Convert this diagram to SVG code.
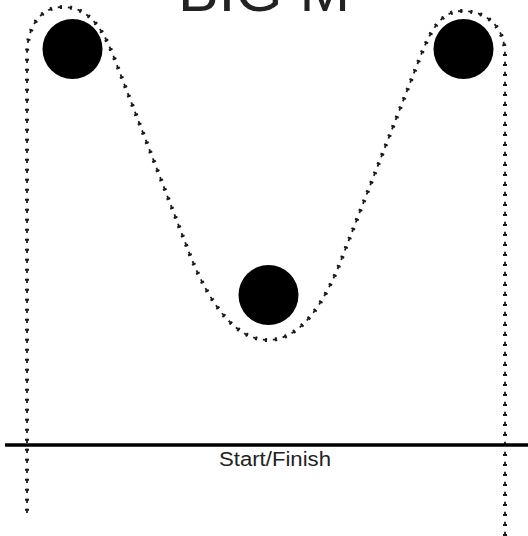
<svg xmlns="http://www.w3.org/2000/svg" width="528" height="536" viewBox="0 0 528 536">
<style>
.ball{fill:#000}
.trk{fill:none;stroke:#1a1a1a;stroke-linejoin:round}
.base{stroke-width:4;stroke-dasharray:2 8}
.tip{stroke-width:1.8;stroke-dasharray:4.2 5.8}
.lbl{font-family:"Liberation Sans",Arial,sans-serif;fill:#222}
</style>
<rect width="528" height="536" fill="#fff"/>
<text class="lbl" x="264" y="11" font-size="60" text-anchor="middle" textLength="172" lengthAdjust="spacingAndGlyphs" fill="#000">BIG M</text>
<g id="connectors">
<path id="trackBase" class="trk base" d="M505,536 L505,55 C505,28 488,11 462,11 C440,11 430,32 419,60 L345,250 C325,305 300,340 268,340 C236,340 210,305 190,255 L115,60 C104,31 90,7 63,7 C40,7 27,27 27,55 L27,515"/>
<path id="trackTip" class="trk tip" d="M505,536 L505,55 C505,28 488,11 462,11 C440,11 430,32 419,60 L345,250 C325,305 300,340 268,340 C236,340 210,305 190,255 L115,60 C104,31 90,7 63,7 C40,7 27,27 27,55 L27,515"/>
</g>
<g id="cone-left"><circle class="ball" cx="72.5" cy="49" r="30"/></g>
<g id="cone-right"><circle class="ball" cx="463.5" cy="49" r="30"/></g>
<g id="cone-middle"><circle class="ball" cx="268.5" cy="295" r="30"/></g>
<g id="start-finish">
<line x1="5" y1="445" x2="528" y2="445" stroke="#000" stroke-width="3.5"/>
<text class="lbl" x="275" y="466" font-size="20" text-anchor="middle" textLength="112" lengthAdjust="spacingAndGlyphs">Start/Finish</text>
</g>
</svg>
